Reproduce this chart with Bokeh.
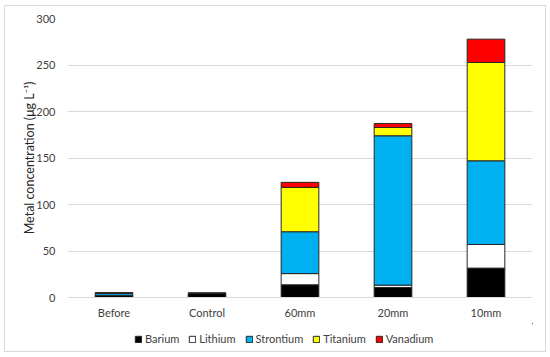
from bokeh.plotting import figure
from bokeh.models import FactorRange, Range1d, Legend, LegendItem
from bokeh.layouts import column
from bokeh.embed import file_html
from bokeh.resources import INLINE

categories = ["Before", "Control", "60mm", "20mm", "10mm"]
metals = ["Barium", "Lithium", "Strontium", "Titanium", "Vanadium"]
barium = [2.0, 4.5, 13.7, 10.8, 31.6]
lithium = [0.3, 0.0, 12.0, 2.5, 25.4]
strontium = [2.4, 0.0, 45.0, 160.6, 90.0]
titanium = [0.0, 0.0, 47.7, 8.9, 105.7]
vanadium = [0.3, 0.0, 5.4, 4.2, 25.1]
colors = ["#000000", "#ffffff", "#00b0f0", "#ffff00", "#ff0000"]
yticks = [0, 50, 100, 150, 200, 250, 300]

data = {"cat": categories, "Barium": barium, "Lithium": lithium,
        "Strontium": strontium, "Titanium": titanium, "Vanadium": vanadium}

FONT = "Lato"
p = figure(x_range=FactorRange(*categories, range_padding=0), y_range=Range1d(0, 300),
           frame_width=465, frame_height=279, output_backend="svg", toolbar_location=None,
           min_border_left=62, min_border_right=13, min_border_top=12, min_border_bottom=26,
           outline_line_color=None, background_fill_color="white", border_fill_color="white")

rs = p.vbar_stack(metals, x="cat", width=0.405, source=data, color=colors,
                  line_color="#262626", line_width=1)

for ax in (p.xaxis[0], p.yaxis[0]):
    ax.major_tick_out = 0
    ax.major_tick_in = 0
    ax.minor_tick_out = 0
    ax.minor_tick_in = 0
    ax.major_tick_line_color = None
    ax.minor_tick_line_color = None
    ax.major_label_text_font = FONT
    ax.major_label_text_font_size = "11px"
    ax.major_label_text_color = "#404040"

p.yaxis.ticker = yticks
p.yaxis.axis_line_color = None
p.yaxis.major_label_standoff = 12
p.yaxis.axis_label = "Metal concentration (μg L⁻¹)"
p.yaxis.axis_label_text_font = FONT
p.yaxis.axis_label_text_font_style = "normal"
p.yaxis.axis_label_text_font_size = "12.5px"
p.yaxis.axis_label_text_color = "#262626"
p.yaxis.axis_label_standoff = -4

p.xaxis.axis_line_color = "#d9d9d9"
p.xaxis.major_label_standoff = 8
p.xaxis.axis_label_standoff = 0

p.xgrid.grid_line_color = None
p.ygrid.grid_line_color = "#d9d9d9"

# legend in a separate strip below the chart (helper glyphs lie outside its view)
lf = figure(width=540, height=28, output_backend="svg", toolbar_location=None,
            x_axis_type=None, y_axis_type=None, x_range=(0, 1), y_range=(0, 1),
            min_border=0, outline_line_color=None, border_fill_color="white")
lf.xgrid.grid_line_color = None
lf.ygrid.grid_line_color = None
dummies = [lf.vbar(x=[5], top=[5], bottom=[4], width=0.1, fill_color=c,
                   line_color="#262626", line_width=1) for c in colors]
legend = Legend(items=[LegendItem(label=m, renderers=[r]) for m, r in zip(metals, dummies)],
                orientation="horizontal", location=(67, 6),
                border_line_color=None, background_fill_alpha=0,
                label_text_font=FONT, label_text_font_size="11px", label_text_color="#404040",
                glyph_width=8, glyph_height=8, label_standoff=3, spacing=9,
                padding=1, margin=0)
lf.add_layout(legend, "center")

layout = column(p, lf, spacing=0,
                styles={"border": "1px solid #d9d9d9", "margin-left": "4px", "margin-top": "5px"})

open("out.html", "w").write(file_html(layout, INLINE))
